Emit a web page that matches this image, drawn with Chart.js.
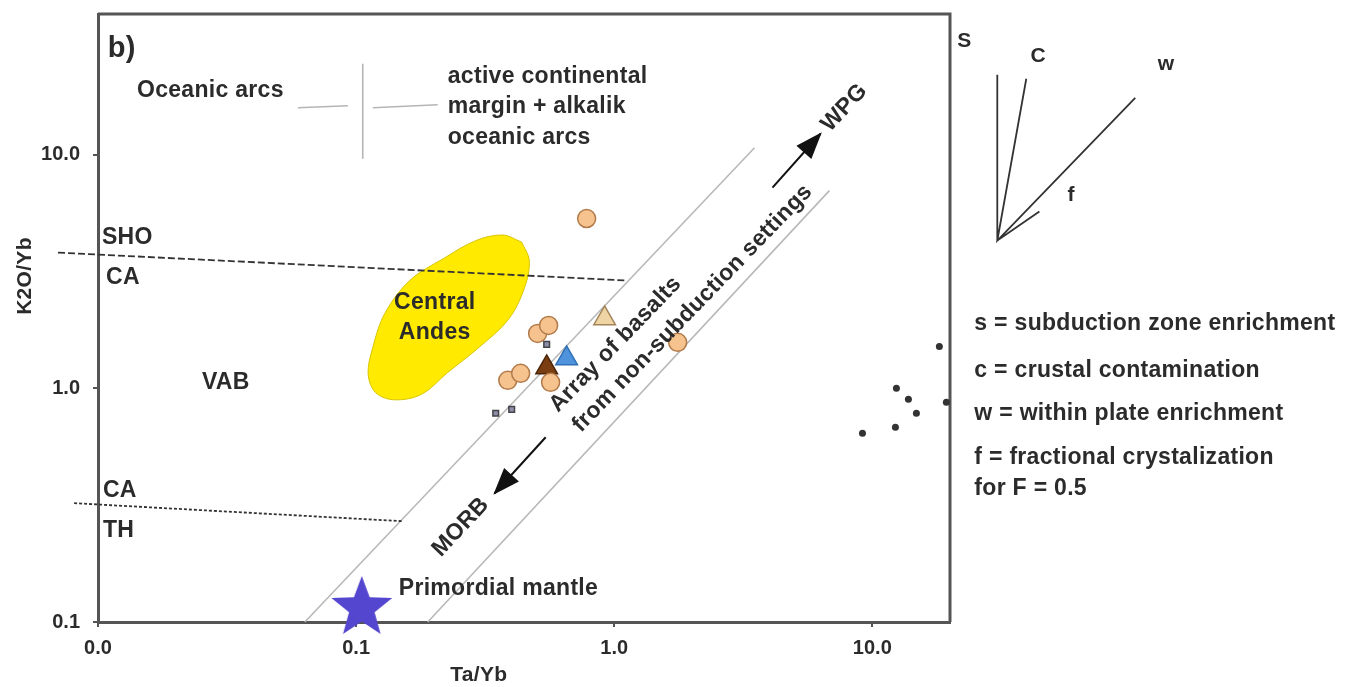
<!DOCTYPE html>
<html>
<head>
<meta charset="utf-8">
<script src="https://cdn.jsdelivr.net/npm/chart.js@4.4.1/dist/chart.umd.min.js"></script>
<style>
  html, body { margin: 0; padding: 0; background: #fff; }
  #wrap { width: 1346px; height: 687px; position: relative; }
</style>
</head>
<body>
<div id="wrap"><canvas id="chart"></canvas></div>
<script>
// tick values
const xTicks = [0.01, 0.1, 1, 10];
const yTicks = [0.1, 1, 10];

// samples: Ta/Yb vs K2O/Yb
const circleTaYb = [0.782, 0.505, 0.557, 0.567, 0.387, 0.434, 1.761];
const circleK2OYb = [5.33, 1.718, 1.859, 1.061, 1.082, 1.159, 1.573];
const tanTriTaYb = [0.918];
const tanTriK2OYb = [1.992];
const blueTriTaYb = [0.654];
const blueTriK2OYb = [1.343];
const brownTriTaYb = [0.5475];
const brownTriK2OYb = [1.229];
const squareTaYb = [0.5475, 0.3475, 0.4007];
const squareK2OYb = [1.542, 0.782, 0.813];
const dotTaYb = [18.19, 12.4, 13.8, 14.82, 12.29, 9.16, 19.36];
const dotK2OYb = [1.512, 1.0, 0.897, 0.782, 0.681, 0.642, 0.871];
const mantleTaYb = [0.1052];
const mantleK2OYb = [0.1148];

// fields and reference lines
const andesTaYb = [0.4377, 0.4687, 0.4495, 0.3895, 0.296, 0.2265, 0.1795, 0.1409, 0.1193, 0.1114, 0.1161, 0.1292, 0.1614, 0.2205, 0.2909, 0.3704, 0.4377];
const andesK2OYb = [4.228, 3.527, 2.699, 1.974, 1.482, 1.17, 0.9436, 0.8932, 0.9567, 1.147, 1.498, 2.092, 2.894, 3.619, 4.287, 4.529, 4.228];
const shoCaTaYb = [0.007, 1.117];
const shoCaK2OYb = [3.81, 2.894];
const caThTaYb = [0.00808, 0.1503];
const caThK2OYb = [0.3225, 0.2701];
const arrayUpperTaYb = [0.0633, 3.497];
const arrayUpperK2OYb = [0.1, 10.71];
const arrayLowerTaYb = [0.1895, 6.82];
const arrayLowerK2OYb = [0.1, 7.02];
const wpgTaYb = [4.104, 6.30];
const wpgK2OYb = [7.23, 12.29];
const morbTaYb = [0.5426, 0.3443];
const morbK2OYb = [0.6174, 0.3558];
const arcLeftTaYb = [0.0595, 0.0929];
const arcLeftK2OYb = [15.88, 16.2];
const arcMidTaYb = [0.1061, 0.1061];
const arcMidK2OYb = [24.5, 9.61];
const arcRightTaYb = [0.1161, 0.2071];
const arcRightK2OYb = [15.88, 16.36];
// s, c, w, f vectors (fan from a common origin)
const vectorTaYb = [30.5, 30.5, 39.5, 30.5, 104.4, 30.5, 44.4];
const vectorK2OYb = [21.98, 4.29, 21.13, 4.29, 17.52, 4.29, 5.71];

// text labels: text, Ta/Yb, K2O/Yb, size, align, rotation
const notes = [
  ['b)', 0.0109, 28.4, 29, 'left', 0],
  ['Oceanic arcs', 0.01416, 18.77, 23, 'left', 0],
  ['active continental', 0.2265, 21.54, 23, 'left', 0],
  ['margin + alkalik', 0.2265, 16.04, 23, 'left', 0],
  ['oceanic arcs', 0.2265, 11.82, 23, 'left', 0],
  ['SHO', 0.01036, 4.42, 23, 'left', 0],
  ['CA', 0.01074, 2.98, 23, 'left', 0],
  ['CA', 0.01045, 0.3664, 23, 'left', 0],
  ['TH', 0.01045, 0.2472, 23, 'left', 0],
  ['VAB', 0.02527, 1.061, 23, 'left', 0],
  ['Central', 0.2017, 2.331, 23, 'center', 0],
  ['Andes', 0.2017, 1.735, 23, 'center', 0],
  ['Primordial mantle', 0.1463, 0.1384, 23, 'left', 0],
  ['MORB', 0.2543, 0.2547, 23, 'center', -47],
  ['WPG', 7.8, 15.88, 23, 'center', -47],
  ['Array of basalts', 1.0125, 1.542, 23, 'center', -46],
  ['from non-subduction settings', 2.012, 2.198, 23, 'center', -46],
  ['S', 22.73, 30.7, 21, 'center', 0],
  ['C', 43.95, 26.5, 21, 'center', 0],
  ['w', 137.6, 24.5, 21, 'center', 0],
  ['f', 59.0, 6.68, 21, 'center', 0],
  ['s = subduction zone enrichment', 24.85, 1.896, 23, 'left', 0],
  ['c = crustal contamination', 24.85, 1.194, 23, 'left', 0],
  ['w = within plate enrichment', 24.85, 0.782, 23, 'left', 0],
  ['f = fractional crystalization', 24.85, 0.507, 23, 'left', 0],
  ['for F = 0.5', 24.85, 0.3737, 23, 'left', 0]
];

const FONT = '"Liberation Sans", Arial, sans-serif';
const TEXT = '#2b2b2b';

function pts(xs, ys) {
  return xs.map((x, i) => ({ x: x, y: ys[i] }));
}

function starImage(r, fill) {
  const c = document.createElement('canvas');
  c.width = c.height = 2 * r + 2;
  const g = c.getContext('2d');
  g.fillStyle = fill;
  g.beginPath();
  for (let k = 0; k < 10; k++) {
    const rad = k % 2 ? r * 0.42 : r;
    const a = -Math.PI / 2 + k * Math.PI / 5;
    g.lineTo(r + 1 + rad * Math.cos(a), r + 1 + rad * Math.sin(a));
  }
  g.closePath();
  g.fill();
  return c;
}

function lineSet(xs, ys, color, width, extra) {
  return Object.assign({
    data: pts(xs, ys),
    showLine: true,
    borderColor: color,
    borderWidth: width,
    pointRadius: 0,
    fill: false,
    clip: false,
    order: 5
  }, extra || {});
}

function markerSet(xs, ys, style, radius, fill, border, extra) {
  return Object.assign({
    data: pts(xs, ys),
    pointStyle: style,
    pointRadius: radius,
    backgroundColor: fill,
    borderColor: border,
    borderWidth: 1.5,
    clip: false,
    order: 1
  }, extra || {});
}

const annotate = {
  id: 'annotate',
  beforeDatasetsDraw(chart) {
    const { ctx, chartArea: a } = chart;
    ctx.save();
    ctx.strokeStyle = '#555';
    ctx.lineWidth = 3;
    ctx.beginPath();
    ctx.moveTo(a.left, a.top);
    ctx.lineTo(a.right, a.top);
    ctx.lineTo(a.right, a.bottom);
    ctx.stroke();
    ctx.restore();
  },
  afterDatasetsDraw(chart) {
    const { ctx, chartArea: a } = chart;
    const sx = chart.scales.x, sy = chart.scales.y;

    chart.data.datasets.forEach((ds, i) => {
      if (!ds.arrowHead) return;
      const els = chart.getDatasetMeta(i).data;
      const p = els[els.length - 1], q = els[els.length - 2];
      ctx.save();
      ctx.translate(p.x, p.y);
      ctx.rotate(Math.atan2(p.y - q.y, p.x - q.x));
      ctx.fillStyle = ds.borderColor;
      ctx.beginPath();
      ctx.moveTo(2, 0);
      ctx.lineTo(-25, -10);
      ctx.lineTo(-25, 10);
      ctx.closePath();
      ctx.fill();
      ctx.restore();
    });

    ctx.save();
    ctx.fillStyle = TEXT;
    ctx.textBaseline = 'middle';
    if ('letterSpacing' in ctx) ctx.letterSpacing = '0.3px';
    notes.forEach(([text, tx, ty, size, align, rot]) => {
      ctx.save();
      ctx.translate(sx.getPixelForValue(tx), sy.getPixelForValue(ty));
      ctx.rotate(rot * Math.PI / 180);
      ctx.font = 'bold ' + size + 'px ' + FONT;
      ctx.textAlign = align;
      ctx.fillText(text, 0, 0);
      ctx.restore();
    });

    // axis titles
    ctx.font = 'bold 21px ' + FONT;
    ctx.textAlign = 'center';
    ctx.fillText('Ta/Yb', a.left + (a.right - a.left) * 0.447, a.bottom + 53);
    ctx.translate(a.left - 73, a.top + (a.bottom - a.top) * 0.431);
    ctx.rotate(-Math.PI / 2);
    ctx.fillText('K2O/Yb', 0, 0);
    ctx.restore();
  }
};

const tickFont = { family: FONT, size: 20, weight: 'bold' };

new Chart(document.getElementById('chart'), {
  type: 'scatter',
  data: {
    datasets: [
      markerSet(mantleTaYb, mantleK2OYb, starImage(32, '#5546cf'), 32, '#5546cf', '#5546cf', { order: 0 }),
      markerSet(circleTaYb, circleK2OYb, 'circle', 9, '#f6c28e', '#b27b4a'),
      markerSet(tanTriTaYb, tanTriK2OYb, 'triangle', 12.5, '#efd4a4', '#a3845a'),
      markerSet(blueTriTaYb, blueTriK2OYb, 'triangle', 12.5, '#4f93dc', '#2f6fb5'),
      markerSet(brownTriTaYb, brownTriK2OYb, 'triangle', 12.5, '#7a3e12', '#4a2508'),
      markerSet(squareTaYb, squareK2OYb, 'rect', 4, '#8e8eae', '#444'),
      markerSet(dotTaYb, dotK2OYb, 'circle', 3.5, '#333', '#333', { borderWidth: 0 }),
      lineSet(wpgTaYb, wpgK2OYb, '#111', 2, { arrowHead: true, order: 3 }),
      lineSet(morbTaYb, morbK2OYb, '#111', 2, { arrowHead: true, order: 3 }),
      lineSet(shoCaTaYb, shoCaK2OYb, '#333', 1.8, { borderDash: [7, 3], order: 4 }),
      lineSet(caThTaYb, caThK2OYb, '#333', 1.8, { borderDash: [3, 2], order: 4 }),
      lineSet(arrayUpperTaYb, arrayUpperK2OYb, '#b8b8b8', 1.6),
      lineSet(arrayLowerTaYb, arrayLowerK2OYb, '#b8b8b8', 1.6),
      lineSet(arcLeftTaYb, arcLeftK2OYb, '#b5b5b5', 1.6),
      lineSet(arcMidTaYb, arcMidK2OYb, '#b5b5b5', 1.6),
      lineSet(arcRightTaYb, arcRightK2OYb, '#b5b5b5', 1.6),
      lineSet(vectorTaYb, vectorK2OYb, '#333', 1.8),
      lineSet(andesTaYb, andesK2OYb, '#d8c400', 1, {
        fill: 'shape', backgroundColor: '#ffea00', tension: 0.35, order: 9
      })
    ]
  },
  options: {
    responsive: true,
    maintainAspectRatio: false,
    animation: false,
    events: [],
    layout: { autoPadding: false, padding: { top: 14, right: 396, left: 0, bottom: 0 } },
    plugins: { legend: { display: false }, tooltip: { enabled: false } },
    scales: {
      x: {
        type: 'logarithmic',
        min: 0.01,
        max: 20,
        afterBuildTicks: s => { s.ticks = xTicks.map(v => ({ value: v })); },
        afterFit: s => { s.height = 65; s.paddingLeft = 0; s.paddingRight = 0; },
        ticks: { callback: v => Number(v).toFixed(1), font: tickFont, color: TEXT, padding: 9, maxRotation: 0, autoSkip: false },
        grid: { drawOnChartArea: false, drawTicks: true, tickLength: 5, color: '#555', tickColor: '#555', lineWidth: 2 },
        border: { display: true, color: '#555', width: 3 },
        title: { display: false }
      },
      y: {
        type: 'logarithmic',
        min: 0.1,
        max: 40,
        afterBuildTicks: s => { s.ticks = yTicks.map(v => ({ value: v })); },
        afterFit: s => { s.width = 98; s.paddingTop = 0; s.paddingBottom = 0; },
        ticks: { callback: v => Number(v).toFixed(1), font: tickFont, color: TEXT, padding: 13, autoSkip: false },
        grid: { drawOnChartArea: false, drawTicks: true, tickLength: 5, color: '#555', tickColor: '#555', lineWidth: 2 },
        border: { display: true, color: '#555', width: 3 },
        title: { display: false }
      }
    }
  },
  plugins: [annotate]
});
</script>
</body>
</html>
